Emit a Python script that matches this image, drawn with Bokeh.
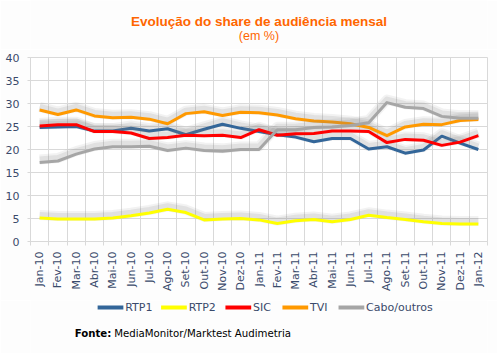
import math
from bokeh.plotting import figure
from bokeh.layouts import column
from bokeh.models import FixedTicker, Grid, Range1d
from bokeh.core.properties import value
from bokeh.embed import file_html
from bokeh.resources import INLINE

months = ["Jan-10", "Fev-10", "Mar-10", "Abr-10", "Mai-10", "Jun-10", "Jul-10", "Ago-10",
          "Set-10", "Out-10", "Nov-10", "Dez-10", "Jan-11", "Fev-11", "Mar-11", "Abr-11",
          "Mai-11", "Jun-11", "Jul-11", "Ago-11", "Set-11", "Out-11", "Nov-11", "Dez-11", "Jan-12"]

rtp1 = [24.8, 24.9, 25.0, 24.0, 24.0, 24.6, 24.0, 24.5, 23.2, 24.4, 25.5, 24.6, 23.9,
        23.2, 22.7, 21.7, 22.4, 22.4, 20.1, 20.6, 19.2, 19.9, 22.9, 21.4, 20.0]
rtp2 = [5.1, 4.9, 4.9, 4.9, 5.1, 5.6, 6.2, 7.0, 6.3, 4.7, 4.9, 5.0, 4.7,
        3.9, 4.5, 4.8, 4.3, 4.8, 5.7, 5.2, 4.8, 4.3, 3.9, 3.8, 3.8]
sic = [25.1, 25.4, 25.4, 23.9, 23.9, 23.6, 22.4, 22.6, 23.1, 23.0, 23.1, 22.6, 24.3,
       23.1, 23.4, 23.5, 24.0, 24.0, 23.9, 21.5, 22.2, 22.0, 20.9, 21.6, 23.0]
tvi = [28.6, 27.6, 28.6, 27.3, 26.9, 27.0, 26.6, 25.6, 27.8, 28.2, 27.4, 28.1, 28.0,
       27.5, 26.7, 26.2, 26.0, 25.6, 24.8, 23.0, 24.9, 25.5, 25.4, 26.3, 26.5]
cabo = [17.2, 17.5, 19.0, 20.1, 20.6, 20.6, 20.7, 19.8, 20.3, 19.8, 19.6, 20.0, 20.0,
        24.3, 24.3, 24.8, 24.9, 25.2, 25.8, 30.2, 29.2, 28.9, 27.2, 26.8, 26.8]

series_names = ["RTP1", "RTP2", "SIC", "TVI", "Cabo/outros"]
series_values = [rtp1, rtp2, sic, tvi, cabo]
series_colors = ["#336699", "#FFFF00", "#FF0000", "#FF9900", "#A6A6A6"]
y_ticks = [0, 5, 10, 15, 20, 25, 30, 35, 40]

title_text = "Evolução do share de audiência mensal"
subtitle_text = "(em %)"
source_bold = "Fonte:"
source_text = "MediaMonitor/Marktest Audimetria"

FONT = "DejaVu Sans"
TITLE_FONT = "Liberation Sans"
TICK_COLOR = "#3A4A6B"
GRID = "#D9D9D9"
BG = "#FDFDFD"
ORANGE = "#FF6600"

x = list(range(len(months)))

# ---------------- title strip ----------------
t = figure(width=497, height=49, output_backend="svg", toolbar_location=None,
           x_range=Range1d(0, 497), y_range=Range1d(49, 0),
           min_border=0, border_fill_color=BG, background_fill_color=BG)
t.axis.visible = False
t.grid.visible = False
t.outline_line_color = None
t.text(x=[248.5], y=[21], text=[title_text], text_font=value(TITLE_FONT),
       text_font_size="13.5px", text_font_style="bold", text_color=ORANGE,
       text_align="center", text_baseline="middle")
t.text(x=[248.5], y=[35], text=[subtitle_text], text_font=value(TITLE_FONT),
       text_font_size="12.5px", text_color=ORANGE, text_align="center", text_baseline="middle")

# ---------------- main chart ----------------
p = figure(width=497, height=251, output_backend="svg", toolbar_location=None,
           x_range=Range1d(-0.5, len(months) - 0.5), y_range=Range1d(0, 40),
           min_border_left=30, min_border_right=10, min_border_top=8, min_border_bottom=59,
           background_fill_color="white", border_fill_color=BG)
p.outline_line_color = GRID

p.xgrid.visible = False
p.add_layout(Grid(dimension=0, ticker=FixedTicker(ticks=[i - 0.5 for i in range(len(months) + 1)]),
                  grid_line_color=GRID))
p.ygrid.grid_line_color = GRID
p.ygrid.ticker = FixedTicker(ticks=y_ticks)

xa = p.xaxis[0]
xa.ticker = FixedTicker(ticks=x, minor_ticks=[i - 0.5 for i in range(len(months) + 1)])
xa.major_label_overrides = {i: m for i, m in enumerate(months)}
xa.major_label_orientation = math.pi / 2
xa.major_tick_line_color = None
xa.major_tick_out = 4
xa.major_tick_in = 0
xa.minor_tick_line_color = GRID
xa.minor_tick_out = 4
xa.minor_tick_in = 0
xa.axis_line_color = GRID
xa.major_label_standoff = 6
xa.major_label_text_font = FONT
xa.major_label_text_font_size = "11px"
xa.major_label_text_color = TICK_COLOR

ya = p.yaxis[0]
ya.ticker = FixedTicker(ticks=y_ticks)
ya.axis_line_color = GRID
ya.major_tick_line_color = GRID
ya.major_tick_out = 3
ya.major_tick_in = 0
ya.minor_tick_line_color = None
ya.major_label_standoff = 8
ya.major_label_text_font = FONT
ya.major_label_text_font_size = "11px"
ya.major_label_text_color = TICK_COLOR

SHADOW_DY = 0.65
for name, vals, col in zip(series_names, series_values, series_colors):
    sh = [v + SHADOW_DY for v in vals]
    p.line(x, sh, line_color="#808080", line_alpha=0.10, line_width=10, line_join="round")
    p.line(x, sh, line_color="#808080", line_alpha=0.15, line_width=6, line_join="round")
    p.line(x, vals, line_color=col, line_width=3, line_join="round")

# ---------------- legend + source strip ----------------
q = figure(width=497, height=53, output_backend="svg", toolbar_location=None,
           x_range=Range1d(0, 497), y_range=Range1d(53, 0),
           min_border=0, border_fill_color=BG, background_fill_color=BG)
q.axis.visible = False
q.grid.visible = False
q.outline_line_color = None

legend_x = [73, 142, 212, 274, 335]
LEG_Y = 7
GLYPH_W = 28
for lx, name, col in zip(legend_x, series_names, series_colors):
    q.line([lx, lx + GLYPH_W], [LEG_Y, LEG_Y], line_color=col, line_width=4)
    q.text(x=[lx + GLYPH_W + 2], y=[LEG_Y], text=[name], text_font=value(FONT),
           text_font_size="11px", text_color=TICK_COLOR, text_baseline="middle")

q.text(x=[48], y=[33], text=[source_bold], text_font=value(FONT), text_font_size="10.2px",
       text_font_style="bold", text_color="black", text_baseline="middle")
q.text(x=[91], y=[33], text=[source_text], text_font=value(FONT),
       text_font_size="10.2px", text_color="black", text_baseline="middle")

layout = column(t, p, q, spacing=0)
open("out.html", "w").write(file_html(layout, INLINE))
